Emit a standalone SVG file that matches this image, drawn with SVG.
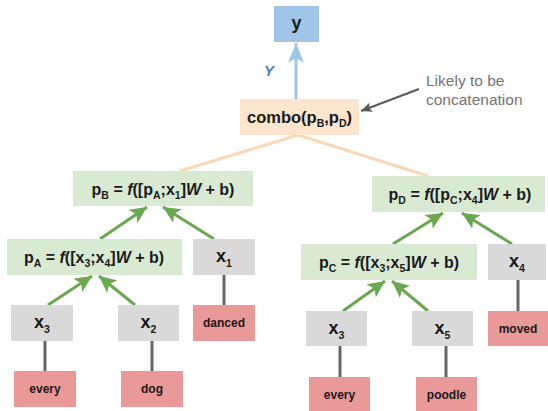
<svg xmlns="http://www.w3.org/2000/svg" width="548" height="411" viewBox="0 0 548 411">
  <style>
    text { font-family: "Liberation Sans", Arial, sans-serif; font-weight: bold; fill: #1a1a1a; text-anchor: middle; }
    .f { font-size: 16px; }
    .x { font-size: 18px; }
    .w { font-size: 12px; }
    .sub { font-size: 10.5px; }
    .it { font-style: italic; }
    .green { fill: #d9ead3; }
    .grey { fill: #d9d9d9; }
    .red { fill: #ea9999; }
    .tree { stroke: #6aa84f; stroke-width: 3; fill: none; marker-end: url(#ga); }
    .stem { stroke: #666666; stroke-width: 3; }
    .note { font-weight: normal; font-size: 15.5px; fill: #757575; text-anchor: start; }
  </style>
  <defs>
    <marker id="ga" markerUnits="userSpaceOnUse" markerWidth="18" markerHeight="16" refX="17" refY="8" orient="auto">
      <path d="M0,0 L17,8 L0,16 L4,8 z" fill="#6aa84f"/>
    </marker>
    <marker id="ba" markerUnits="userSpaceOnUse" markerWidth="21" markerHeight="16" refX="20" refY="8" orient="auto">
      <path d="M0,0 L20,8 L0,16 L5,8 z" fill="#9fc5e8"/>
    </marker>
    <marker id="da" markerUnits="userSpaceOnUse" markerWidth="12" markerHeight="10" refX="11" refY="5" orient="auto">
      <path d="M0,0 L11,5 L0,10 L2.5,5 z" fill="#595959"/>
    </marker>
  </defs>

  <g id="connectors">
    <line x1="296" y1="99" x2="296" y2="43" stroke="#9fc5e8" stroke-width="3" marker-end="url(#ba)"/>
    <line x1="419" y1="89" x2="361" y2="111" stroke="#595959" stroke-width="2" marker-end="url(#da)"/>
    <line x1="298" y1="135" x2="180" y2="171" stroke="#fad7b5" stroke-width="3"/>
    <line x1="298" y1="135" x2="428" y2="176" stroke="#fad7b5" stroke-width="3"/>
    <line class="tree" x1="100" y1="239" x2="147" y2="207"/>
    <line class="tree" x1="214" y1="239" x2="163" y2="207"/>
    <line class="tree" x1="48" y1="305" x2="92" y2="276"/>
    <line class="tree" x1="135" y1="305" x2="99" y2="276"/>
    <line class="tree" x1="393" y1="244" x2="443" y2="213"/>
    <line class="tree" x1="512" y1="244" x2="462" y2="213"/>
    <line class="tree" x1="343" y1="311" x2="385" y2="281"/>
    <line class="tree" x1="428" y1="311" x2="392" y2="281"/>
    <line class="stem" x1="224" y1="275" x2="224" y2="305"/>
    <line class="stem" x1="45" y1="341" x2="45" y2="371"/>
    <line class="stem" x1="152" y1="341" x2="152" y2="371"/>
    <line class="stem" x1="518" y1="280" x2="518" y2="311"/>
    <line class="stem" x1="340" y1="346" x2="340" y2="377"/>
    <line class="stem" x1="446" y1="346" x2="446" y2="377"/>
  </g>

  <text x="269" y="76" class="it" style="font-size:15px;fill:#3d85c6">Y</text>
  <text x="426" y="86" class="note">Likely to be</text>
  <text x="426" y="105" class="note">concatenation</text>

  <g id="y">
    <rect x="274" y="6" width="45" height="36" fill="#9fc5e8"/>
    <text x="296.5" y="29" class="x">y</text>
  </g>
  <g id="combo">
    <rect x="240" y="99" width="119" height="36" fill="#fce5cd"/>
    <text x="299.5" y="123" style="font-size:16.5px">combo(p<tspan class="sub" dy="4">B</tspan><tspan dy="-4">,p</tspan><tspan class="sub" dy="4">D</tspan><tspan dy="-4">)</tspan></text>
  </g>
  <g id="pB">
    <rect x="73" y="171" width="180" height="35" class="green"/>
    <text x="163" y="195" class="f">p<tspan class="sub" dy="4">B</tspan><tspan dy="-4"> = </tspan><tspan class="it">f</tspan>([p<tspan class="sub" dy="4">A</tspan><tspan dy="-4">;x</tspan><tspan class="sub" dy="4">1</tspan><tspan dy="-4">]</tspan><tspan class="it">W</tspan> + b)</text>
  </g>
  <g id="pA">
    <rect x="7" y="239" width="175" height="36" class="green"/>
    <text x="94" y="263" class="f">p<tspan class="sub" dy="4">A</tspan><tspan dy="-4"> = </tspan><tspan class="it">f</tspan>([x<tspan class="sub" dy="4">3</tspan><tspan dy="-4">;x</tspan><tspan class="sub" dy="4">4</tspan><tspan dy="-4">]</tspan><tspan class="it">W</tspan> + b)</text>
  </g>
  <g id="x1">
    <rect x="193" y="239" width="62" height="36" class="grey"/>
    <text x="224" y="262" class="x">x<tspan class="sub" dy="5">1</tspan></text>
  </g>
  <g id="pD">
    <rect x="372" y="176" width="173" height="36" class="green"/>
    <text x="460" y="200" class="f">p<tspan class="sub" dy="4">D</tspan><tspan dy="-4"> = </tspan><tspan class="it">f</tspan>([p<tspan class="sub" dy="4">C</tspan><tspan dy="-4">;x</tspan><tspan class="sub" dy="4">4</tspan><tspan dy="-4">]</tspan><tspan class="it">W</tspan> + b)</text>
  </g>
  <g id="pC">
    <rect x="301" y="244" width="176" height="36" class="green"/>
    <text x="389" y="268" class="f">p<tspan class="sub" dy="4">C</tspan><tspan dy="-4"> = </tspan><tspan class="it">f</tspan>([x<tspan class="sub" dy="4">3</tspan><tspan dy="-4">;x</tspan><tspan class="sub" dy="4">5</tspan><tspan dy="-4">]</tspan><tspan class="it">W</tspan> + b)</text>
  </g>
  <g id="x4">
    <rect x="488" y="244" width="58" height="36" class="grey"/>
    <text x="517" y="267" class="x">x<tspan class="sub" dy="5">4</tspan></text>
  </g>
  <g id="x3a">
    <rect x="11" y="305" width="62" height="36" class="grey"/>
    <text x="42" y="328" class="x">x<tspan class="sub" dy="5">3</tspan></text>
  </g>
  <g id="x2">
    <rect x="118" y="305" width="61" height="36" class="grey"/>
    <text x="148.5" y="328" class="x">x<tspan class="sub" dy="5">2</tspan></text>
  </g>
  <g id="danced">
    <rect x="193" y="305" width="62" height="36" class="red"/>
    <text x="224" y="327" class="w">danced</text>
  </g>
  <g id="every_a">
    <rect x="14" y="371" width="62" height="36" class="red"/>
    <text x="45" y="393" class="w">every</text>
  </g>
  <g id="dog">
    <rect x="121" y="371" width="62" height="36" class="red"/>
    <text x="152" y="393" class="w">dog</text>
  </g>
  <g id="x3b">
    <rect x="306" y="311" width="61" height="35" class="grey"/>
    <text x="336.5" y="334" class="x">x<tspan class="sub" dy="5">3</tspan></text>
  </g>
  <g id="x5">
    <rect x="412" y="311" width="61" height="35" class="grey"/>
    <text x="442.5" y="334" class="x">x<tspan class="sub" dy="5">5</tspan></text>
  </g>
  <g id="moved">
    <rect x="488" y="311" width="60" height="35" class="red"/>
    <text x="518" y="333" class="w">moved</text>
  </g>
  <g id="every_b">
    <rect x="309" y="377" width="61" height="34" class="red"/>
    <text x="339.5" y="399" class="w">every</text>
  </g>
  <g id="poodle">
    <rect x="416" y="377" width="61" height="34" class="red"/>
    <text x="446.5" y="399" class="w">poodle</text>
  </g>
</svg>
